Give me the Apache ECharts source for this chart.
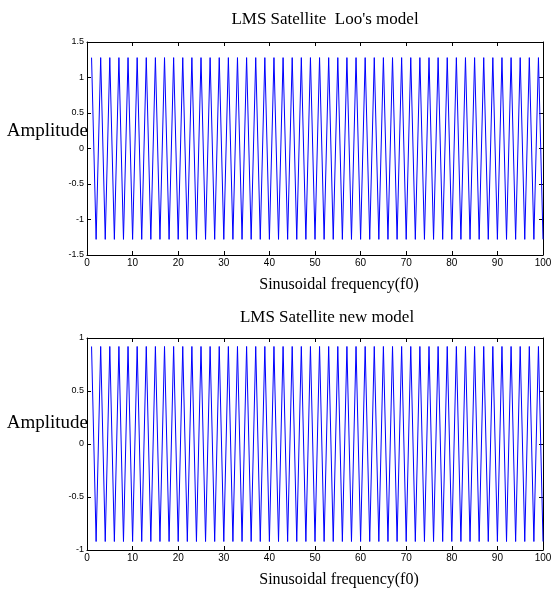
<!DOCTYPE html>
<html>
<head>
<meta charset="utf-8">
<title>LMS Satellite</title>
<script src="https://cdn.jsdelivr.net/npm/echarts@6/dist/echarts.min.js"></script>
<style>
  html, body { margin: 0; padding: 0; background: #fff; }
  #main { width: 551px; height: 592px; }
</style>
</head>
<body>
<div id="main"></div>
<script>
// sample positions (f0)
var freq = [1,2,3,4,5,6,7,8,9,10,11,12,13,14,15,16,17,18,19,20,
  21,22,23,24,25,26,27,28,29,30,31,32,33,34,35,36,37,38,39,40,
  41,42,43,44,45,46,47,48,49,50,51,52,53,54,55,56,57,58,59,60,
  61,62,63,64,65,66,67,68,69,70,71,72,73,74,75,76,77,78,79,80,
  81,82,83,84,85,86,87,88,89,90,91,92,93,94,95,96,97,98,99,100];
// Loo's model amplitude
var looAmp = [1.28,-1.28,1.28,-1.28,1.28,-1.28,1.28,-1.28,1.28,-1.28,
  1.28,-1.28,1.28,-1.28,1.28,-1.28,1.28,-1.28,1.28,-1.28,
  1.28,-1.28,1.28,-1.28,1.28,-1.28,1.28,-1.28,1.28,-1.28,
  1.28,-1.28,1.28,-1.28,1.28,-1.28,1.28,-1.28,1.28,-1.28,
  1.28,-1.28,1.28,-1.28,1.28,-1.28,1.28,-1.28,1.28,-1.28,
  1.28,-1.28,1.28,-1.28,1.28,-1.28,1.28,-1.28,1.28,-1.28,
  1.28,-1.28,1.28,-1.28,1.28,-1.28,1.28,-1.28,1.28,-1.28,
  1.28,-1.28,1.28,-1.28,1.28,-1.28,1.28,-1.28,1.28,-1.28,
  1.28,-1.28,1.28,-1.28,1.28,-1.28,1.28,-1.28,1.28,-1.28,
  1.28,-1.28,1.28,-1.28,1.28,-1.28,1.28,-1.28,1.28,-1.28];
// new model amplitude
var newAmp = [0.92,-0.92,0.92,-0.92,0.92,-0.92,0.92,-0.92,0.92,-0.92,
  0.92,-0.92,0.92,-0.92,0.92,-0.92,0.92,-0.92,0.92,-0.92,
  0.92,-0.92,0.92,-0.92,0.92,-0.92,0.92,-0.92,0.92,-0.92,
  0.92,-0.92,0.92,-0.92,0.92,-0.92,0.92,-0.92,0.92,-0.92,
  0.92,-0.92,0.92,-0.92,0.92,-0.92,0.92,-0.92,0.92,-0.92,
  0.92,-0.92,0.92,-0.92,0.92,-0.92,0.92,-0.92,0.92,-0.92,
  0.92,-0.92,0.92,-0.92,0.92,-0.92,0.92,-0.92,0.92,-0.92,
  0.92,-0.92,0.92,-0.92,0.92,-0.92,0.92,-0.92,0.92,-0.92,
  0.92,-0.92,0.92,-0.92,0.92,-0.92,0.92,-0.92,0.92,-0.92,
  0.92,-0.92,0.92,-0.92,0.92,-0.92,0.92,-0.92,0.92,-0.92];
var titles = ["LMS Satellite  Loo's model", "LMS Satellite new model"];
var xName = "Sinusoidal frequency(f0)";
var yName = "Amplitude";

function pairs(xs, ys) {
  var out = [];
  for (var i = 0; i < xs.length; i++) out.push([xs[i], ys[i]]);
  return out;
}

var serif = "Liberation Serif";
var sans = "Liberation Sans";
var lineCol = { color: "#000", width: 1 };

function xAx(g, pos, showLabel) {
  return {
    type: "value", gridIndex: g, position: pos, min: 0, max: 100, interval: 10,
    axisLine: { show: true, onZero: false, lineStyle: lineCol },
    axisTick: { show: true, inside: true, length: 4, lineStyle: lineCol },
    axisLabel: { show: showLabel, color: "#000", fontFamily: sans, fontSize: 10, margin: 3 },
    splitLine: { show: false }
  };
}
function yAx(g, pos, lim, step, showLabel) {
  return {
    type: "value", gridIndex: g, position: pos, min: -lim, max: lim, interval: step,
    axisLine: { show: true, onZero: false, lineStyle: lineCol },
    axisTick: { show: true, inside: true, length: 4, lineStyle: lineCol },
    axisLabel: { show: showLabel, color: "#000", fontFamily: sans, fontSize: 9, margin: 3 },
    splitLine: { show: false }
  };
}

function txt(t, x, y, size, align) {
  return {
    type: "text", x: x, y: y, silent: true,
    style: { text: t, fontFamily: serif, fontSize: size, fill: "#000", textAlign: align, textVerticalAlign: "middle" }
  };
}

var chart = echarts.init(document.getElementById("main"));
chart.setOption({
  animation: false,
  backgroundColor: "#fff",
  graphic: [
    txt(titles[0], 325, 20, 17, "center"),
    txt(xName, 339, 285, 16, "center"),
    txt(yName, 88, 131, 19, "right"),
    txt(titles[1], 327, 318, 17, "center"),
    txt(xName, 339, 580, 16, "center"),
    txt(yName, 88, 423, 19, "right")
  ],
  grid: [
    { left: 87, right: 8, top: 42, height: 213, outerBoundsMode: "none", containLabel: false },
    { left: 87, right: 8, top: 338, height: 212, outerBoundsMode: "none", containLabel: false }
  ],
  xAxis: [xAx(0, "bottom", true), xAx(0, "top", false), xAx(1, "bottom", true), xAx(1, "top", false)],
  yAxis: [yAx(0, "left", 1.5, 0.5, true), yAx(0, "right", 1.5, 0.5, false), yAx(1, "left", 1, 0.5, true), yAx(1, "right", 1, 0.5, false)],
  series: [
    { type: "line", xAxisIndex: 0, yAxisIndex: 0, data: pairs(freq, looAmp), showSymbol: false, lineStyle: { color: "#0000ff", width: 1 } },
    { type: "line", xAxisIndex: 2, yAxisIndex: 2, data: pairs(freq, newAmp), showSymbol: false, lineStyle: { color: "#0000ff", width: 1 } }
  ]
});
</script>
</body>
</html>
